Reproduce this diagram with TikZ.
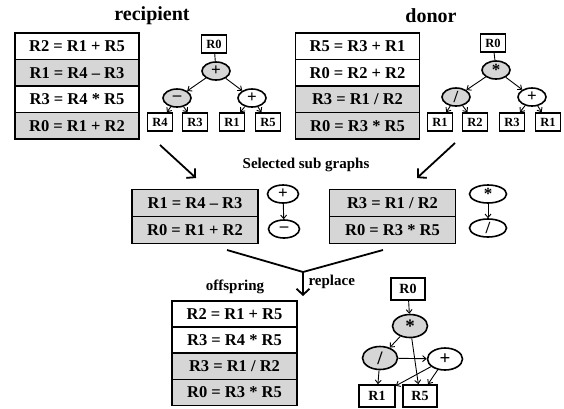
\documentclass[tikz,border=0pt]{standalone}
\usepackage{fontspec}
\setmainfont{Liberation Serif}
\usetikzlibrary{shapes.geometric,arrows.meta}

\begin{document}
\begin{tikzpicture}[x=1pt,y=-1pt,
  every node/.style={font=\bfseries},
  title/.style={font=\bfseries\fontsize{20}{22}\selectfont},
  row/.style={draw,line width=1.4pt,minimum width=124pt,minimum height=26.5pt,inner sep=0pt,font=\bfseries\fontsize{16.5}{18}\selectfont},
  grey/.style={fill=black!16},
  reg/.style={draw,line width=1.6pt,minimum width=25pt,minimum height=18pt,inner sep=1pt,font=\bfseries\fontsize{12.5}{13}\selectfont},
  bigreg/.style={reg,minimum width=34pt,minimum height=22pt,font=\bfseries\fontsize{14}{15}\selectfont},
  op/.style={ellipse,draw,line width=1.6pt,minimum width=28pt,minimum height=18pt,inner sep=0pt,font=\bfseries\fontsize{17}{17}\selectfont},
  bigop/.style={op,minimum width=35pt,minimum height=23pt,font=\bfseries\fontsize{19}{19}\selectfont},
  link/.style={-{Straight Barb[length=3.5pt,width=6pt]},line width=0.9pt},
  big/.style={-{Straight Barb[length=6pt,width=13pt]},line width=1.8pt}]
\useasboundingbox (0,0) rectangle (564,408);

% Titles
\node[title] (trec) at (152,16) {recipient};
\node[title] (tdon) at (431,16) {donor};
\node[font=\bfseries\fontsize{15}{17}\selectfont] (tsel) at (306,165) {Selected sub graphs};
\node[font=\bfseries\fontsize{15}{17}\selectfont] (toff) at (235,287) {offspring};

% Recipient program
\node[row] (ra1) at (77,46.25) {R2 = R1 + R5};
\node[row,grey] (ra2) at (77,72.75) {R1 = R4 – R3};
\node[row] (ra3) at (77,99.25) {R3 = R4 * R5};
\node[row,grey] (ra4) at (77,125.75) {R0 = R1 + R2};

% Recipient graph
\node[reg] (rr0) at (214,44) {R0};
\node[op,grey] (rplus) at (216,71) {+};
\node[op,grey] (rminus) at (177,98) {–};
\node[op] (rplusb) at (252,98) {+};
\node[reg] (rr4) at (160,122) {R4};
\node[reg] (rr3) at (195,122) {R3};
\node[reg] (rr1) at (232,122) {R1};
\node[reg] (rr5) at (268,122) {R5};
\draw[line width=0.9pt] (rr0) -- (rplus);
\draw[link] (rplus) -- (rminus);
\draw[link] (rplus) -- (rplusb);
\draw[link] (rminus) -- (rr4);
\draw[link] (rminus) -- (rr3);
\draw[link] (rplusb) -- (rr1);
\draw[link] (rplusb) -- (rr5);

% Donor program
\node[row] (da1) at (357.5,46.25) {R5 = R3 + R1};
\node[row] (da2) at (357.5,72.75) {R0 = R2 + R2};
\node[row,grey] (da3) at (357.5,99.25) {R3 = R1 / R2};
\node[row,grey] (da4) at (357.5,125.75) {R0 = R3 * R5};

% Donor graph
\node[reg] (dr0) at (493,43) {R0};
\node[op,grey] (dstar) at (496,70) {*};
\node[op,grey] (dslash) at (456,97) {/};
\node[op] (dplus) at (532,97) {+};
\node[reg] (dr1) at (440,122) {R1};
\node[reg] (dr2) at (475,122) {R2};
\node[reg] (dr3) at (512,122) {R3};
\node[reg] (dr1b) at (548,122) {R1};
\draw[line width=0.9pt] (dr0) -- (dstar);
\draw[link] (dstar) -- (dslash);
\draw[link] (dstar) -- (dplus);
\draw[link] (dslash) -- (dr1);
\draw[link] (dslash) -- (dr2);
\draw[link] (dplus) -- (dr3);
\draw[link] (dplus) -- (dr1b);

% Selection arrows
\coordinate (ca) at (160,145);
\coordinate (cb) at (196,178);
\coordinate (cc) at (455,143);
\coordinate (cd) at (417,178);
\draw[big] (ca) -- (cb);
\draw[big] (cc) -- (cd);

% Selected sub graphs
\node[row,grey,minimum width=126pt,minimum height=27pt] (sa1) at (195,203) {R1 = R4 – R3};
\node[row,grey,minimum width=126pt,minimum height=27pt] (sa2) at (195,230) {R0 = R1 + R2};
\node[op,minimum width=31pt] (splus) at (283,194) {+};
\node[op,minimum width=31pt] (sminus) at (284,229) {–};
\draw[link] (splus) -- (sminus);
\node[row,grey,minimum width=126pt,minimum height=27pt] (sb1) at (392.5,203) {R3 = R1 / R2};
\node[row,grey,minimum width=126pt,minimum height=27pt] (sb2) at (392.5,230) {R0 = R3 * R5};
\node[op,minimum width=37pt] (sstar) at (488,194) {*};
\node[op,minimum width=37pt] (sslash) at (488,228) {/};
\draw[link] (sstar) -- (sslash);

% Replace
\coordinate (ma) at (227,250);
\coordinate (mb) at (383,250);
\coordinate (mc) at (303,272);
\coordinate (md) at (303,296);
\draw[line width=1.8pt] (ma) -- (mc) -- (mb);
\draw[big] (mc) -- (md);
\node[font=\bfseries\fontsize{15}{17}\selectfont,anchor=west] (trep) at (305,282) {replace};

% Offspring program
\node[row,minimum width=125pt,minimum height=26pt] (oa1) at (234.5,314) {R2 = R1 + R5};
\node[row,minimum width=125pt,minimum height=26pt] (oa2) at (234.5,340) {R3 = R4 * R5};
\node[row,grey,minimum width=125pt,minimum height=26pt] (oa3) at (234.5,366.5) {R3 = R1 / R2};
\node[row,grey,minimum width=125pt,minimum height=26pt] (oa4) at (234.5,392.5) {R0 = R3 * R5};

% Offspring graph
\node[bigreg] (or0) at (408,289) {R0};
\node[bigop,grey] (ostar) at (410,326) {*};
\node[bigop,grey] (oslash) at (380,358) {/};
\node[bigop,minimum height=22pt] (oplus) at (445,359) {+};
\node[bigreg,minimum width=36pt] (or1) at (377,396) {R1};
\node[bigreg] (or5) at (420,396) {R5};
\draw[link] (or0) -- (ostar);
\draw[link] (ostar) -- (oslash);
\draw[link] (ostar) -- (or5);
\draw[link] (oslash) -- (oplus);
\draw[link] (oslash) -- (or1);
\draw[link] (oplus) -- (or1);
\draw[link] (oplus) -- (or5);

\end{tikzpicture}
\end{document}
